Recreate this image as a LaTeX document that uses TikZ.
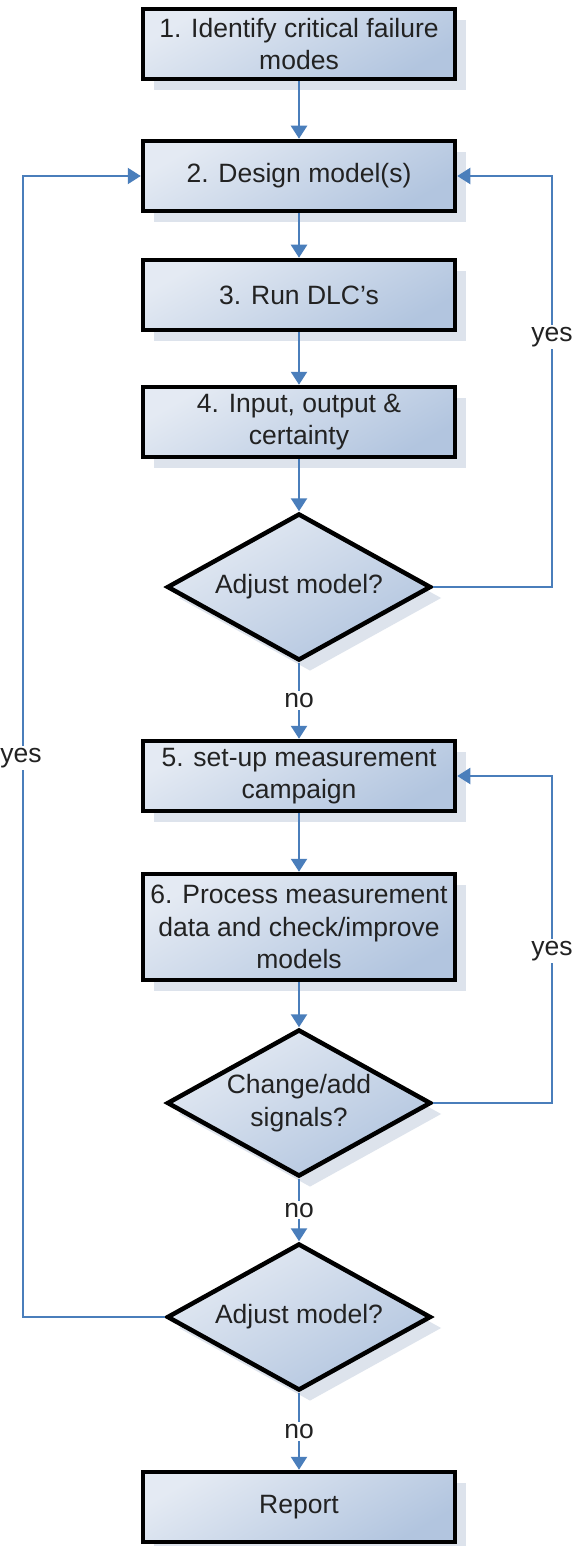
\documentclass[tikz,border=0pt]{standalone}
\usepackage{fontspec}
\setmainfont{Liberation Sans}
\usetikzlibrary{shapes.geometric,arrows.meta,shadows}
\definecolor{arrowblue}{HTML}{4A7EBB}
\definecolor{boxlight}{HTML}{E4EAF3}
\definecolor{boxdark}{HTML}{B2C5DF}
\definecolor{shadowc}{HTML}{DDE3EC}
\definecolor{txt}{HTML}{222222}
\begin{document}
\begin{tikzpicture}[x=1pt,y=-1pt,
  base/.style={draw=black, line width=4.5pt, top color=boxlight, bottom color=boxdark, shading angle=30,
    text=txt, font=\fontsize{26.5}{32.5}\selectfont, align=center,
    drop shadow={shadow xshift=11pt, shadow yshift=-11pt, fill=shadowc, opacity=1, draw=none}},
  stepbox/.style={base, rectangle, minimum width=312pt, minimum height=70pt, inner sep=0pt},
  decision/.style={base, diamond, shape aspect=1.8, minimum width=264pt, minimum height=147pt, inner sep=0pt},
  flow/.style={draw=arrowblue, line width=2.4pt, -{Triangle[width=16pt,length=13pt]}},
  loopflow/.style={draw=arrowblue, line width=2pt, -{Triangle[width=16pt,length=13pt]}},
  lbl/.style={fill=white, text=txt, font=\fontsize{26.5}{30}\selectfont, inner sep=2pt}
]
\useasboundingbox (0,0) rectangle (573,1546);
\fill[white] (0,0) rectangle (573,1546);

\node[stepbox] (b1) at (299,44) {1. Identify critical failure\\modes};
\node[stepbox] (b2) at (299,176) {2. Design model(s)};
\node[stepbox] (b3) at (299,295) {3. Run DLC’s};
\node[stepbox] (b4) at (299,422) {4. Input, output \&\\certainty};
\node[decision] (d1) at (299,587) {Adjust model?};
\node[stepbox] (b5) at (299,776) {5. set-up measurement\\campaign};
\node[stepbox, minimum height=106pt] (b6) at (299,927) {6. Process measurement\\data and check/improve\\models};
\node[decision] (d2) at (299,1103) {Change/add\\signals?};
\node[decision] (d3) at (299,1317) {Adjust model?};
\node[stepbox] (rep) at (299,1507) {Report};

\coordinate (rx) at (552,0);
\coordinate (lx) at (23,0);

\draw[flow] (b1) -- (b2);
\draw[flow] (b2) -- (b3);
\draw[flow] (b3) -- (b4);
\draw[flow] (b4) -- (d1);
\draw[flow] (d1) -- node[lbl] (n1) {no} (b5);
\draw[flow] (b5) -- (b6);
\draw[flow] (b6) -- (d2);
\draw[flow] (d2) -- node[lbl] (n2) {no} (d3);
\draw[flow] (d3) -- node[lbl] (n3) {no} (rep);

\draw[loopflow] (d1.east) -- (d1.east -| rx) |- (b2.east);
\draw[loopflow] (d2.east) -- (d2.east -| rx) |- (b5.east);
\draw[loopflow] (d3.west) -- (d3.west -| lx) |- (b2.west);

\node[lbl] (y1) at (552,337) {yes};
\node[lbl] (y2) at (552,951) {yes};
\node[lbl] (y3) at (21,758) {yes};
\end{tikzpicture}
\end{document}
